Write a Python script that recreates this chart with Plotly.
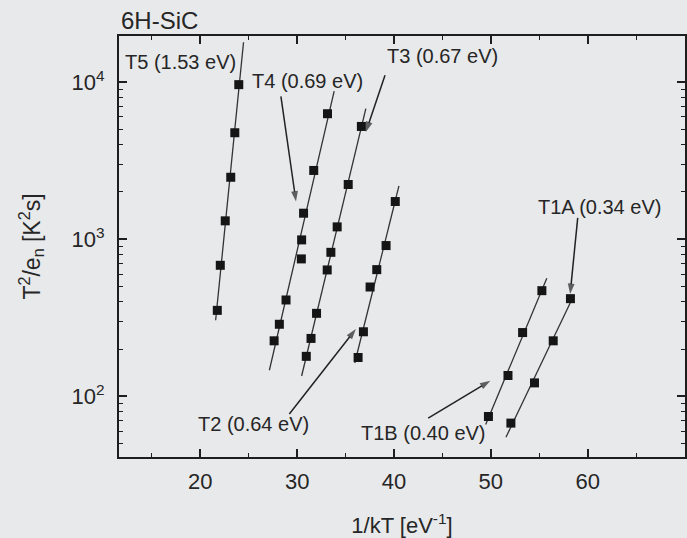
import numpy as np
import plotly.graph_objects as go

# Arrhenius data for the 6H-SiC traps: x = 1/kT [eV^-1], y = T^2/e_n [K^2 s]
trap_names = ["T5", "T4", "T3", "T2", "T1B", "T1A"]
trap_energies = [1.53, 0.69, 0.67, 0.64, 0.40, 0.34]

t5_x = [23.97, 23.56, 23.14, 22.57, 22.06, 21.75]
t5_y = [9630, 4760, 2480, 1310, 683, 353]

t4_x = [33.13, 31.71, 30.66, 30.46, 30.43, 28.85, 28.16, 27.62]
t4_y = [6290, 2740, 1465, 991, 750, 411, 288, 226]

t3_x = [36.63, 35.27, 34.13, 33.48, 33.10, 32.00, 31.43, 30.94]
t3_y = [5220, 2230, 1199, 826, 638, 338, 234, 180]

t2_x = [40.13, 39.18, 38.22, 37.53, 36.84, 36.29]
t2_y = [1738, 912, 641, 497, 258, 177]

t1b_x = [55.27, 53.28, 51.77, 49.75]
t1b_y = [471, 255, 136, 74.6]

t1a_x = [58.22, 56.44, 54.51, 52.07]
t1a_y = [419, 226, 122, 67.7]

# x-interval over which each Arrhenius fit line is drawn
fit_ranges = [(21.58, 24.46), (27.13, 33.82), (30.46, 37.09),
              (35.95, 40.51), (49.47, 55.78), (51.56, 58.55)]

series_x = [t5_x, t4_x, t3_x, t2_x, t1b_x, t1a_x]
series_y = [t5_y, t4_y, t3_y, t2_y, t1b_y, t1a_y]

x_ticks = [20, 30, 40, 50, 60]
x_minor = [15, 25, 35, 45, 55, 65]
y_ticks = [100, 1000, 10000]
y_ticktext = ["10<sup>2</sup>", "10<sup>3</sup>", "10<sup>4</sup>"]
y_minor = [m * 10 ** k for k in (1, 2, 3, 4) for m in range(2, 10)]

FONT = "Liberation Sans, Arial, sans-serif"
INK = "#262626"
BG = "#e8e9eb"

fig = go.Figure()

for xs, ys, (x0, x1) in zip(series_x, series_y, fit_ranges):
    # least-squares line in log10 space
    slope, icpt = np.polyfit(np.array(xs), np.log10(ys), 1)
    lx = np.array([x0, x1])
    fig.add_trace(go.Scatter(x=lx, y=10 ** (slope * lx + icpt), mode="lines",
                             line=dict(color="#333333", width=1.3),
                             hoverinfo="skip", showlegend=False))
    fig.add_trace(go.Scatter(x=xs, y=ys, mode="markers",
                             marker=dict(symbol="square", size=9, color="#151515"),
                             showlegend=False))

# label positions (x in eV^-1, y in log10 units) and arrows (tail, head)
label_pos = [(17.97, 4.125), (31.04, 4.004), (45.04, 4.163),
             (25.49, 1.826), (43.0, 1.769), (61.2, 3.208)]
arrows = [None,
          ((28.32, 3.909), (29.88, 3.240)),
          ((39.07, 4.043), (37.09, 3.682)),
          ((29.19, 1.888), (36.06, 2.429)),
          ((43.53, 1.862), (49.95, 2.100)),
          ((58.97, 3.136), (58.19, 2.652))]

for name, energy, (lx, ly), arr in zip(trap_names, trap_energies, label_pos, arrows):
    fig.add_annotation(x=lx, y=ly, xref="x", yref="y", showarrow=False,
                       text=f"{name} ({energy:.2f} eV)",
                       font=dict(family=FONT, size=20, color=INK))
    if arr is not None:
        (tx, ty), (hx, hy) = arr
        fig.add_trace(go.Scatter(
            x=[tx, hx], y=[10 ** ty, 10 ** hy], mode="lines+markers",
            line=dict(color="#222222", width=1.5),
            marker=dict(symbol="arrow", size=[0, 11], angleref="previous",
                        color="#222222", line=dict(width=0)),
            hoverinfo="skip", showlegend=False))

fig.add_annotation(xref="paper", yref="paper", x=0, y=1, xanchor="left",
                   yanchor="bottom", yshift=0, showarrow=False, text="6H-SiC",
                   font=dict(family=FONT, size=24, color=INK))

fig.update_layout(
    width=687, height=538,
    margin=dict(l=119, r=0, t=36, b=81),
    paper_bgcolor=BG, plot_bgcolor=BG,
    font=dict(family=FONT, size=20, color=INK),
    xaxis=dict(range=[11.6, 70.05], showgrid=False, zeroline=False,
               showline=True, linecolor="#1e1e1e", linewidth=2, mirror="ticks",
               tickmode="array", tickvals=x_ticks, ticks="inside", ticklen=8,
               tickwidth=1.5, tickcolor="#1e1e1e", ticklabelstandoff=4,
               tickfont=dict(family=FONT, size=22, color=INK),
               minor=dict(tickmode="array", tickvals=x_minor, ticks="inside",
                          ticklen=4, tickwidth=1.3, tickcolor="#1e1e1e"),
               title=dict(text="1/kT [eV<sup>-1</sup>]", standoff=28,
                          font=dict(family=FONT, size=22, color=INK))),
    yaxis=dict(type="log", range=[1.615, 4.293], showgrid=False, zeroline=False,
               showline=True, linecolor="#1e1e1e", linewidth=2, mirror="ticks",
               tickmode="array", tickvals=y_ticks, ticktext=y_ticktext,
               ticks="inside", ticklen=8, tickwidth=1.5, tickcolor="#1e1e1e",
               ticklabelstandoff=8,
               tickfont=dict(family=FONT, size=22, color=INK),
               minor=dict(tickmode="array", tickvals=y_minor, ticks="inside",
                          ticklen=4, tickwidth=1.2, tickcolor="#1e1e1e"),
               title=dict(text="T<sup>2</sup>/e<sub>n</sub> [K<sup>2</sup>s]",
                          standoff=25, font=dict(family=FONT, size=23, color=INK))),
)

fig.write_html("out.html")
